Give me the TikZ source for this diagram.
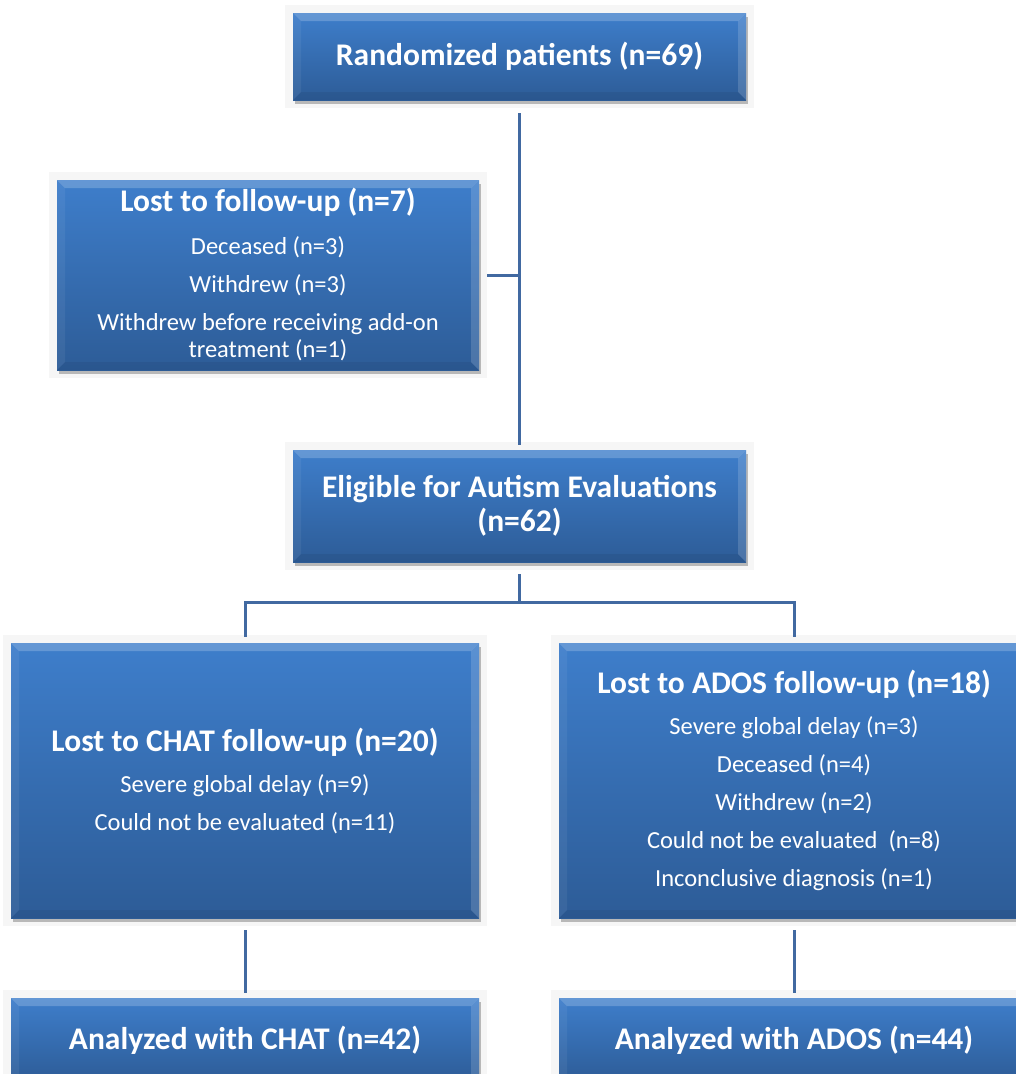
\documentclass[tikz,border=0pt]{standalone}
\usepackage{fontspec}
\setmainfont{Carlito}
\usetikzlibrary{calc}

\definecolor{boxtop}{HTML}{3E7ECB}
\definecolor{boxbot}{HTML}{2D5C97}
\definecolor{linkc}{HTML}{4169A1}
\definecolor{haloc}{HTML}{F6F6F6}

\newcommand{\ttl}[1]{{\fontsize{31.5}{34}\selectfont\bfseries #1}}

\begin{document}
\begin{tikzpicture}[x=1pt,y=-1pt,
  titlefont/.style={font=\fontsize{31.5}{34}\selectfont\bfseries},
  bodyfont/.style={font=\fontsize{24.5}{27}\selectfont},
  flowbox/.style={rectangle, inner sep=0pt, text=white, align=center,
    top color=boxtop, bottom color=boxbot,
    preaction={fill=haloc, draw=haloc, line width=16pt},
    preaction={fill=black, opacity=0.25, transform canvas={xshift=2pt,yshift=-4pt}},
    path picture={
      % bevelled rim: light top and sides, slightly darker bottom
      \fill[white,opacity=0.2] (path picture bounding box.north west) -- (path picture bounding box.north east)
        -- ([xshift=-8pt,yshift=-8pt]path picture bounding box.north east) -- ([xshift=8pt,yshift=-8pt]path picture bounding box.north west) -- cycle;
      \fill[white,opacity=0.06] (path picture bounding box.north west) -- ([xshift=8pt,yshift=-8pt]path picture bounding box.north west)
        -- ([xshift=8pt,yshift=8pt]path picture bounding box.south west) -- (path picture bounding box.south west) -- cycle;
      \fill[white,opacity=0.15] (path picture bounding box.north east) -- ([xshift=-8pt,yshift=-8pt]path picture bounding box.north east)
        -- ([xshift=-8pt,yshift=8pt]path picture bounding box.south east) -- (path picture bounding box.south east) -- cycle;
      \fill[black,opacity=0.06] (path picture bounding box.south west) -- ([xshift=8pt,yshift=8pt]path picture bounding box.south west)
        -- ([xshift=-8pt,yshift=8pt]path picture bounding box.south east) -- (path picture bounding box.south east) -- cycle;
    }},
  link/.style={draw=linkc, line width=3pt}
]
\useasboundingbox (0,0) rectangle (1016,1074);
\clip (0,0) rectangle (1016,1074);
\fill[white] (0,0) rectangle (1016,1074);

% boxes
\node[flowbox, titlefont, minimum width=453pt, minimum height=87pt] (rand) at (519.5,56.5)
  {Randomized patients (n=69)};

\node[flowbox, bodyfont, minimum width=422pt, minimum height=190pt] (lost) at (268,275)
  {\ttl{Lost to follow-up (n=7)}\\[16pt]
   Deceased (n=3)\\[11pt]
   Withdrew (n=3)\\[11pt]
   Withdrew before receiving add-on\\
   treatment (n=1)};

\node[flowbox, titlefont, minimum width=453pt, minimum height=112pt] (elig) at (519.5,506)
  {Eligible for Autism Evaluations\\ (n=62)};

\node[flowbox, bodyfont, minimum width=468pt, minimum height=275pt] (chat) at (245,780.5)
  {\ttl{Lost to CHAT follow-up (n=20)}\\[14pt]
   Severe global delay (n=9)\\[11pt]
   Could not be evaluated (n=11)};

\node[flowbox, bodyfont, minimum width=470pt, minimum height=275pt] (ados) at (794,780.5)
  {\ttl{Lost to ADOS follow-up (n=18)}\\[14pt]
   Severe global delay (n=3)\\[11pt]
   Deceased (n=4)\\[11pt]
   Withdrew (n=2)\\[11pt]
   Could not be evaluated\ \ (n=8)\\[11pt]
   Inconclusive diagnosis (n=1)};

\node[flowbox, titlefont, minimum width=468pt, minimum height=84pt] (achat) at (245,1040)
  {Analyzed with CHAT (n=42)};
\node[flowbox, titlefont, minimum width=470pt, minimum height=84pt] (aados) at (794,1040)
  {Analyzed with ADOS (n=44)};

% connectors
\coordinate (split) at (519.5,602);
\draw[link] ([yshift=-13pt]rand.south) -- ([yshift=5pt]elig.north);
\draw[link] ([xshift=8pt]lost.east) -- (lost.east -| rand.south);
\draw[link] ([yshift=-12pt]elig.south) -- (split);
\draw[link] ([yshift=6pt]chat.north) |- (split) -| ([yshift=6pt]ados.north);
\draw[link] ([yshift=-12pt]chat.south) -- ([yshift=5pt]achat.north);
\draw[link] ([yshift=-12pt]ados.south) -- ([yshift=5pt]aados.north);
\end{tikzpicture}
\end{document}
